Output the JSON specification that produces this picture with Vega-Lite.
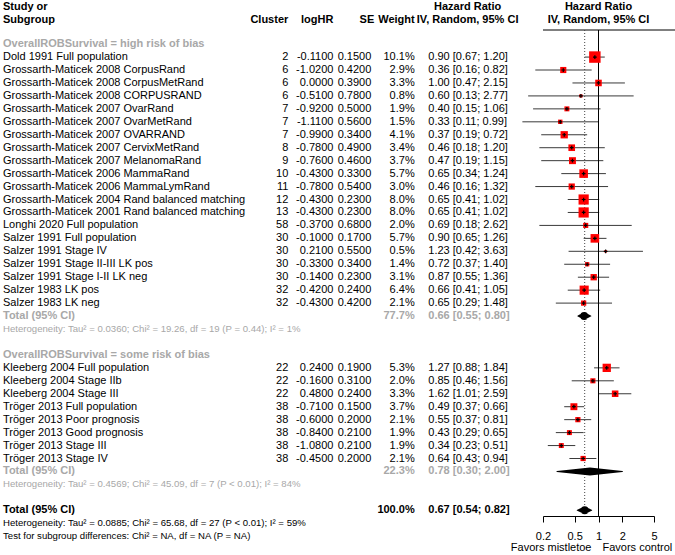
{
  "$schema": "https://vega.github.io/schema/vega-lite/v6.json",
  "padding": 0,
  "autosize": {"type": "pad"},
  "bounds": "flush",
  "spacing": 0,
  "config": {
    "view": {"stroke": null},
    "font": "Liberation Sans",
    "text": {"font": "Liberation Sans", "fontSize": 11, "baseline": "middle", "color": "#000"},
    "title": {"font": "Liberation Sans", "fontSize": 11, "fontWeight": "bold", "color": "#000", "frame": "group", "offset": 5, "lineHeight": 13},
    "axis": {"domainColor": "#000", "tickColor": "#000", "labelColor": "#000", "labelFont": "Liberation Sans", "labelFontSize": 11, "tickSize": 6, "labelPadding": 8, "grid": false, "labelFlush": false, "labelOverlap": false},
    "locale": {"number": {"decimal": ".", "thousands": ",", "grouping": [3], "currency": ["$", ""], "minus": "-"}}
  },
  "datasets": {
    "studies": [
      {"row": 1, "study": "Dold 1991 Full population", "cluster": 2, "loghr": -0.11, "se": 0.15, "w": 0.101, "hr": 0.90, "lo": 0.67, "hi": 1.20},
      {"row": 2, "study": "Grossarth-Maticek 2008 CorpusRand", "cluster": 6, "loghr": -1.02, "se": 0.42, "w": 0.029, "hr": 0.36, "lo": 0.16, "hi": 0.82},
      {"row": 3, "study": "Grossarth-Maticek 2008 CorpusMetRand", "cluster": 6, "loghr": 0.0, "se": 0.39, "w": 0.033, "hr": 1.00, "lo": 0.47, "hi": 2.15},
      {"row": 4, "study": "Grossarth-Maticek 2008 CORPUSRAND", "cluster": 6, "loghr": -0.51, "se": 0.78, "w": 0.008, "hr": 0.60, "lo": 0.13, "hi": 2.77},
      {"row": 5, "study": "Grossarth-Maticek 2007 OvarRand", "cluster": 7, "loghr": -0.92, "se": 0.50, "w": 0.019, "hr": 0.40, "lo": 0.15, "hi": 1.06},
      {"row": 6, "study": "Grossarth-Maticek 2007 OvarMetRand", "cluster": 7, "loghr": -1.11, "se": 0.56, "w": 0.015, "hr": 0.33, "lo": 0.11, "hi": 0.99},
      {"row": 7, "study": "Grossarth-Maticek 2007 OVARRAND", "cluster": 7, "loghr": -0.99, "se": 0.34, "w": 0.041, "hr": 0.37, "lo": 0.19, "hi": 0.72},
      {"row": 8, "study": "Grossarth-Maticek 2007 CervixMetRand", "cluster": 8, "loghr": -0.78, "se": 0.49, "w": 0.034, "hr": 0.46, "lo": 0.18, "hi": 1.20},
      {"row": 9, "study": "Grossarth-Maticek 2007 MelanomaRand", "cluster": 9, "loghr": -0.76, "se": 0.46, "w": 0.037, "hr": 0.47, "lo": 0.19, "hi": 1.15},
      {"row": 10, "study": "Grossarth-Maticek 2006 MammaRand", "cluster": 10, "loghr": -0.43, "se": 0.33, "w": 0.057, "hr": 0.65, "lo": 0.34, "hi": 1.24},
      {"row": 11, "study": "Grossarth-Maticek 2006 MammaLymRand", "cluster": 11, "loghr": -0.78, "se": 0.54, "w": 0.030, "hr": 0.46, "lo": 0.16, "hi": 1.32},
      {"row": 12, "study": "Grossarth-Maticek 2004 Rand balanced matching", "cluster": 12, "loghr": -0.43, "se": 0.23, "w": 0.080, "hr": 0.65, "lo": 0.41, "hi": 1.02},
      {"row": 13, "study": "Grossarth-Maticek 2001 Rand balanced matching", "cluster": 13, "loghr": -0.43, "se": 0.23, "w": 0.080, "hr": 0.65, "lo": 0.41, "hi": 1.02},
      {"row": 14, "study": "Longhi 2020 Full population", "cluster": 58, "loghr": -0.37, "se": 0.68, "w": 0.020, "hr": 0.69, "lo": 0.18, "hi": 2.62},
      {"row": 15, "study": "Salzer 1991 Full population", "cluster": 30, "loghr": -0.10, "se": 0.17, "w": 0.057, "hr": 0.90, "lo": 0.65, "hi": 1.26},
      {"row": 16, "study": "Salzer 1991 Stage IV", "cluster": 30, "loghr": 0.21, "se": 0.55, "w": 0.005, "hr": 1.23, "lo": 0.42, "hi": 3.63},
      {"row": 17, "study": "Salzer 1991 Stage II-III LK pos", "cluster": 30, "loghr": -0.33, "se": 0.34, "w": 0.014, "hr": 0.72, "lo": 0.37, "hi": 1.40},
      {"row": 18, "study": "Salzer 1991 Stage I-II LK neg", "cluster": 30, "loghr": -0.14, "se": 0.23, "w": 0.031, "hr": 0.87, "lo": 0.55, "hi": 1.36},
      {"row": 19, "study": "Salzer 1983 LK pos", "cluster": 32, "loghr": -0.42, "se": 0.24, "w": 0.064, "hr": 0.66, "lo": 0.41, "hi": 1.05},
      {"row": 20, "study": "Salzer 1983 LK neg", "cluster": 32, "loghr": -0.43, "se": 0.42, "w": 0.021, "hr": 0.65, "lo": 0.29, "hi": 1.48},
      {"row": 25, "study": "Kleeberg 2004 Full population", "cluster": 22, "loghr": 0.24, "se": 0.19, "w": 0.053, "hr": 1.27, "lo": 0.88, "hi": 1.84},
      {"row": 26, "study": "Kleeberg 2004 Stage IIb", "cluster": 22, "loghr": -0.16, "se": 0.31, "w": 0.020, "hr": 0.85, "lo": 0.46, "hi": 1.56},
      {"row": 27, "study": "Kleeberg 2004 Stage III", "cluster": 22, "loghr": 0.48, "se": 0.24, "w": 0.033, "hr": 1.62, "lo": 1.01, "hi": 2.59},
      {"row": 28, "study": "Tröger 2013 Full population", "cluster": 38, "loghr": -0.71, "se": 0.15, "w": 0.037, "hr": 0.49, "lo": 0.37, "hi": 0.66},
      {"row": 29, "study": "Tröger 2013 Poor prognosis", "cluster": 38, "loghr": -0.60, "se": 0.20, "w": 0.021, "hr": 0.55, "lo": 0.37, "hi": 0.81},
      {"row": 30, "study": "Tröger 2013 Good prognosis", "cluster": 38, "loghr": -0.84, "se": 0.21, "w": 0.019, "hr": 0.43, "lo": 0.29, "hi": 0.65},
      {"row": 31, "study": "Tröger 2013 Stage III", "cluster": 38, "loghr": -1.08, "se": 0.21, "w": 0.019, "hr": 0.34, "lo": 0.23, "hi": 0.51},
      {"row": 32, "study": "Tröger 2013 Stage IV", "cluster": 38, "loghr": -0.45, "se": 0.20, "w": 0.021, "hr": 0.64, "lo": 0.43, "hi": 0.94}
    ],
    "pooled": [
      {"row": 21, "level": "sub", "label": "Total (95% CI)", "w": 0.777, "hr": 0.66, "lo": 0.55, "hi": 0.80},
      {"row": 33, "level": "sub", "label": "Total (95% CI)", "w": 0.223, "hr": 0.78, "lo": 0.30, "hi": 2.00},
      {"row": 36, "level": "all", "label": "Total (95% CI)", "w": 1.0, "hr": 0.67, "lo": 0.54, "hi": 0.82}
    ],
    "notes": [
      {"row": 0, "kind": "group", "text": "OverallROBSurvival = high risk of bias"},
      {"row": 22, "kind": "subhet", "text": "Heterogeneity: Tau² = 0.0360; Chi² = 19.26, df = 19 (P = 0.44); I² = 1%"},
      {"row": 24, "kind": "group", "text": "OverallROBSurvival = some risk of bias"},
      {"row": 34, "kind": "subhet", "text": "Heterogeneity: Tau² = 0.4569; Chi² = 45.09, df = 7 (P < 0.01); I² = 84%"},
      {"row": 37, "kind": "het", "text": "Heterogeneity: Tau² = 0.0885; Chi² = 65.68, df = 27 (P < 0.01); I² = 59%"},
      {"row": 38, "kind": "het", "text": "Test for subgroup differences: Chi² = NA, df = NA (P = NA)"}
    ],
    "axisref": [
      {"hr": 1, "left": "Favors mistletoe", "right": "Favors control"}
    ]
  },
  "hconcat": [
    {
      "width": 250, "height": 525,
      "title": {"text": ["Study or", "Subgroup"], "anchor": "start", "dx": 3},
      "encoding": {"y": {"field": "row", "type": "quantitative", "scale": {"domain": [-1.09, 39.45], "nice": false, "zero": false, "reverse": true}, "axis": null}},
      "layer": [
        {"data": {"name": "studies"}, "mark": {"type": "text", "align": "left", "dx": 3}, "encoding": {"x": {"value": 0}, "text": {"field": "study"}}},
        {"data": {"name": "notes"}, "transform": [{"filter": "datum.kind == 'group'"}], "mark": {"type": "text", "align": "left", "dx": 3, "fontWeight": "bold", "color": "#a8a8a8"}, "encoding": {"x": {"value": 0}, "text": {"field": "text"}}},
        {"data": {"name": "notes"}, "transform": [{"filter": "datum.kind == 'subhet'"}], "mark": {"type": "text", "align": "left", "dx": 3, "fontSize": 9.6, "color": "#a8a8a8"}, "encoding": {"x": {"value": 0}, "text": {"field": "text"}}},
        {"data": {"name": "notes"}, "transform": [{"filter": "datum.kind == 'het'"}], "mark": {"type": "text", "align": "left", "dx": 3, "fontSize": 9.6, "color": "#000"}, "encoding": {"x": {"value": 0}, "text": {"field": "text"}}},
        {"data": {"name": "pooled"}, "transform": [{"filter": "datum.level == 'sub'"}], "mark": {"type": "text", "align": "left", "dx": 3, "fontWeight": "bold", "color": "#a8a8a8"}, "encoding": {"x": {"value": 0}, "text": {"field": "label"}}},
        {"data": {"name": "pooled"}, "transform": [{"filter": "datum.level == 'all'"}], "mark": {"type": "text", "align": "left", "dx": 3, "fontWeight": "bold", "color": "#000"}, "encoding": {"x": {"value": 0}, "text": {"field": "label"}}},
        {"data": {"values": [{}]}, "mark": {"type": "rule", "color": "#000", "strokeWidth": 1}, "encoding": {"y": {"datum": -1.09}}}
      ]
    },
    {
      "width": 38.3, "height": 486,
      "title": {"text": "Cluster", "anchor": "end"},
      "encoding": {"y": {"field": "row", "type": "quantitative", "scale": {"domain": [-1.09, 36.44], "nice": false, "zero": false, "reverse": true}, "axis": null}},
      "layer": [
        {"data": {"name": "studies"}, "mark": {"type": "text", "align": "right"}, "encoding": {"x": {"value": "width"}, "text": {"field": "cluster", "type": "nominal"}}},
        {"data": {"values": [{}]}, "mark": {"type": "rule", "color": "#000", "strokeWidth": 1}, "encoding": {"y": {"datum": -1.09}}}
      ]
    },
    {
      "width": 44.4, "height": 486,
      "title": {"text": "logHR", "anchor": "end"},
      "encoding": {"y": {"field": "row", "type": "quantitative", "scale": {"domain": [-1.09, 36.44], "nice": false, "zero": false, "reverse": true}, "axis": null}},
      "layer": [
        {"data": {"name": "studies"}, "mark": {"type": "text", "align": "right"}, "encoding": {"x": {"value": "width"}, "text": {"field": "loghr", "type": "quantitative", "format": ".4f"}}},
        {"data": {"values": [{}]}, "mark": {"type": "rule", "color": "#000", "strokeWidth": 1}, "encoding": {"y": {"datum": -1.09}}}
      ]
    },
    {
      "width": 37.3, "height": 486,
      "title": {"text": "SE", "anchor": "end", "dx": 3},
      "encoding": {"y": {"field": "row", "type": "quantitative", "scale": {"domain": [-1.09, 36.44], "nice": false, "zero": false, "reverse": true}, "axis": null}},
      "layer": [
        {"data": {"name": "studies"}, "mark": {"type": "text", "align": "right"}, "encoding": {"x": {"value": "width"}, "text": {"field": "se", "type": "quantitative", "format": ".4f"}}},
        {"data": {"values": [{}]}, "mark": {"type": "rule", "color": "#000", "strokeWidth": 1}, "encoding": {"y": {"datum": -1.09}}}
      ]
    },
    {
      "width": 42.7, "height": 486,
      "title": {"text": "Weight", "anchor": "end"},
      "encoding": {"y": {"field": "row", "type": "quantitative", "scale": {"domain": [-1.09, 36.44], "nice": false, "zero": false, "reverse": true}, "axis": null}},
      "layer": [
        {"data": {"name": "studies"}, "mark": {"type": "text", "align": "right"}, "encoding": {"x": {"value": "width"}, "text": {"field": "w", "type": "quantitative", "format": ".1%"}}},
        {"data": {"name": "pooled"}, "transform": [{"filter": "datum.level == 'sub'"}], "mark": {"type": "text", "align": "right", "fontWeight": "bold", "color": "#a8a8a8"}, "encoding": {"x": {"value": "width"}, "text": {"field": "w", "type": "quantitative", "format": ".1%"}}},
        {"data": {"name": "pooled"}, "transform": [{"filter": "datum.level == 'all'"}], "mark": {"type": "text", "align": "right", "fontWeight": "bold", "color": "#000"}, "encoding": {"x": {"value": "width"}, "text": {"field": "w", "type": "quantitative", "format": ".1%"}}},
        {"data": {"values": [{}]}, "mark": {"type": "rule", "color": "#000", "strokeWidth": 1}, "encoding": {"y": {"datum": -1.09}}}
      ]
    },
    {
      "width": 128, "height": 486,
      "title": {"text": ["Hazard Ratio", "IV, Random, 95% CI"], "anchor": "middle", "dx": -11.4},
      "encoding": {"y": {"field": "row", "type": "quantitative", "scale": {"domain": [-1.09, 36.44], "nice": false, "zero": false, "reverse": true}, "axis": null}},
      "layer": [
        {"data": {"name": "studies"}, "transform": [{"calculate": "format(datum.hr, '.2f') + ' [' + format(datum.lo, '.2f') + '; ' + format(datum.hi, '.2f') + ']'", "as": "ci"}], "mark": {"type": "text", "align": "left", "dx": 13.3}, "encoding": {"x": {"value": 0}, "text": {"field": "ci"}}},
        {"data": {"name": "pooled"}, "transform": [{"filter": "datum.level == 'sub'"}, {"calculate": "format(datum.hr, '.2f') + ' [' + format(datum.lo, '.2f') + '; ' + format(datum.hi, '.2f') + ']'", "as": "ci"}], "mark": {"type": "text", "align": "left", "dx": 13.3, "fontWeight": "bold", "color": "#a8a8a8"}, "encoding": {"x": {"value": 0}, "text": {"field": "ci"}}},
        {"data": {"name": "pooled"}, "transform": [{"filter": "datum.level == 'all'"}, {"calculate": "format(datum.hr, '.2f') + ' [' + format(datum.lo, '.2f') + '; ' + format(datum.hi, '.2f') + ']'", "as": "ci"}], "mark": {"type": "text", "align": "left", "dx": 13.3, "fontWeight": "bold", "color": "#000"}, "encoding": {"x": {"value": 0}, "text": {"field": "ci"}}},
        {"data": {"values": [{}]}, "mark": {"type": "rule", "color": "#000", "strokeWidth": 1}, "encoding": {"y": {"datum": -1.09}}}
      ]
    },
    {
      "width": 111, "height": 486,
      "title": {"text": ["Hazard Ratio", "IV, Random, 95% CI"], "anchor": "middle"},
      "resolve": {"scale": {"size": "independent"}},
      "encoding": {"y": {"field": "row", "type": "quantitative", "scale": {"domain": [-1.09, 36.44], "nice": false, "zero": false, "reverse": true}, "axis": null}},
      "layer": [
        {"data": {"name": "studies"}, "mark": {"type": "rule", "color": "#3a3a3a", "strokeWidth": 1}, "encoding": {"x": {"field": "lo", "type": "quantitative", "scale": {"type": "log", "domain": [0.2, 5], "nice": false, "zero": false}, "axis": {"values": [0.2, 0.5, 1, 2, 5], "format": "~g", "title": null}}, "x2": {"field": "hi"}}},
        {"data": {"values": [{}]}, "mark": {"type": "rule", "color": "#000", "strokeWidth": 1}, "encoding": {"x": {"value": 0}, "x2": {"value": "width"}, "y": {"value": 0}}},
        {"data": {"name": "axisref"}, "mark": {"type": "rule", "color": "#000", "strokeWidth": 1}, "encoding": {"x": {"field": "hr", "type": "quantitative", "axis": {"values": [0.2, 0.5, 1, 2, 5], "format": "~g", "title": null}}, "y": null}},
        {"data": {"name": "pooled"}, "transform": [{"filter": "datum.level == 'all'"}], "mark": {"type": "rule", "color": "#444", "strokeWidth": 1, "strokeDash": [1, 2]}, "encoding": {"x": {"field": "hr", "type": "quantitative", "axis": {"values": [0.2, 0.5, 1, 2, 5], "format": "~g", "title": null}}, "y": {"datum": -1.09}, "y2": {"field": "row"}}},
        {"data": {"name": "studies"}, "mark": {"type": "point", "shape": "square", "filled": true, "color": "#ff0000", "opacity": 1}, "encoding": {"x": {"field": "hr", "type": "quantitative", "axis": {"values": [0.2, 0.5, 1, 2, 5], "format": "~g", "title": null}}, "size": {"field": "w", "type": "quantitative", "scale": {"domain": [0, 0.1], "range": [0, 130], "zero": true}, "legend": null}}},
        {"data": {"name": "studies"}, "mark": {"type": "point", "shape": "M0,-1L0,1M-1,0L1,0", "filled": false, "color": "#000", "strokeWidth": 1.2, "size": 14, "opacity": 1}, "encoding": {"x": {"field": "hr", "type": "quantitative", "axis": {"values": [0.2, 0.5, 1, 2, 5], "format": "~g", "title": null}}}},
        {"data": {"name": "pooled"}, "transform": [{"fold": ["lo", "hr", "hi"], "as": ["k", "v"]}], "mark": {"type": "trail", "color": "#000"}, "encoding": {"x": {"field": "v", "type": "quantitative", "axis": {"values": [0.2, 0.5, 1, 2, 5], "format": "~g", "title": null}}, "detail": {"field": "row", "type": "nominal"}, "order": {"field": "v", "type": "quantitative"}, "size": {"field": "k", "type": "ordinal", "scale": {"type": "ordinal", "domain": ["lo", "hr", "hi"], "range": [0, 8, 0]}, "legend": null}}},
        {"data": {"name": "axisref"}, "mark": {"type": "text", "align": "right", "dx": -7, "dy": 31.6}, "encoding": {"x": {"field": "hr", "type": "quantitative", "axis": {"values": [0.2, 0.5, 1, 2, 5], "format": "~g", "title": null}}, "y": {"value": "height"}, "text": {"field": "left"}}},
        {"data": {"name": "axisref"}, "mark": {"type": "text", "align": "left", "dx": 4, "dy": 31.6}, "encoding": {"x": {"field": "hr", "type": "quantitative", "axis": {"values": [0.2, 0.5, 1, 2, 5], "format": "~g", "title": null}}, "y": {"value": "height"}, "text": {"field": "right"}}}
      ]
    },
    {
      "width": 23.3, "height": 486,
      "data": {"values": [{}]},
      "mark": {"type": "rule", "color": "#000", "strokeWidth": 1},
      "encoding": {"x": {"value": 0}, "x2": {"value": "width"}, "y": {"value": 0}}
    }
  ]
}
